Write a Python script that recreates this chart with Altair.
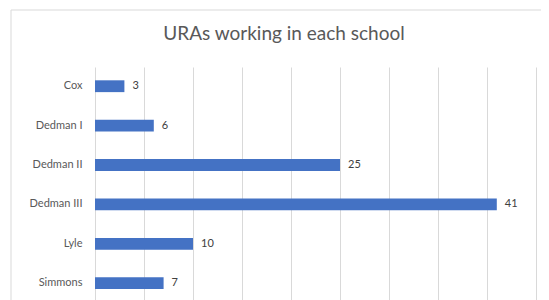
import altair as alt
import pandas as pd

schools = ["Cox", "Dedman I", "Dedman II", "Dedman III", "Lyle", "Simmons"]
uras = [3, 6, 25, 41, 10, 7]
x_ticks = [0, 5, 10, 15, 20, 25, 30, 35, 40, 45]
title_text = "URAs working in each school"

df = pd.DataFrame({"school": schools, "uras": uras})

FONT = "Lato"
GRAY = "#595959"

y_enc = alt.Y("school:N", sort=schools, title=None,
              scale=alt.Scale(paddingInner=0.7, paddingOuter=0.307, align=0.55),
              axis=alt.Axis(labelFont=FONT, labelFontSize=11, labelColor=GRAY,
                            labelPadding=13, ticks=False, domain=False))
x_enc = alt.X("uras:Q", title=None,
              scale=alt.Scale(domain=[0, 45], nice=False),
              axis=alt.Axis(values=x_ticks, labels=False, ticks=False, domain=False,
                            grid=True, gridColor="#d9d9d9", gridWidth=1))

bars = alt.Chart(df).mark_bar(color="#4472C4").encode(x=x_enc, y=y_enc)
labels = alt.Chart(df).mark_text(align="left", dx=8, font=FONT, fontSize=11,
                                 color="#404040").encode(
    x="uras:Q", y=alt.Y("school:N", sort=schools), text="uras:Q")

one = pd.DataFrame({"t": [title_text]})
border = alt.Chart(one).mark_rect(
    fill=None, stroke="#d9d9d9", strokeWidth=1).encode(
    x=alt.value(-84), x2=alt.value(470), y=alt.value(-57), y2=alt.value(320))
title = alt.Chart(one).mark_text(font=FONT, fontSize=19, color=GRAY,
                                 align="center", baseline="middle").encode(
    x=alt.value(189), y=alt.value(-33), text="t:N")

chart = alt.layer(border, bars, labels, title).properties(
    width=441, height=233,
    autosize=alt.AutoSizeParams(type="none"),
    padding={"left": 87, "top": 59, "right": 5, "bottom": 0},
).configure_view(stroke=None)

chart.save("out.html", embed_options={"renderer": "svg", "actions": False})
